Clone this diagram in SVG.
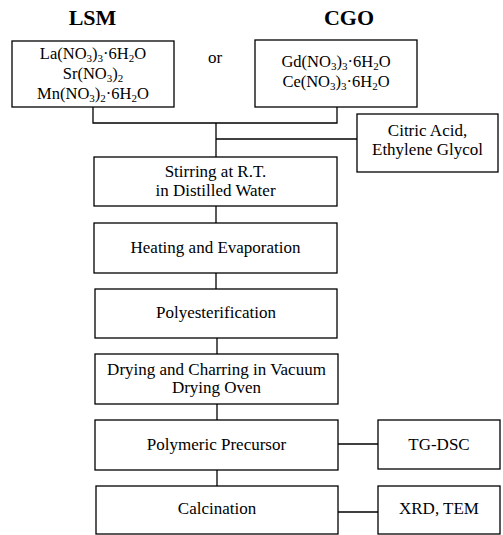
<svg xmlns="http://www.w3.org/2000/svg" width="503" height="535" viewBox="0 0 503 535">
<style>
  .box { fill: #ffffff; stroke: #000000; stroke-width: 1.3; }
  .t { font-family: "Liberation Serif", "Times New Roman", serif; font-size: 17px; fill: #000000; text-anchor: middle; }
  .f { font-family: "Liberation Serif", "Times New Roman", serif; font-size: 16.5px; fill: #000000; text-anchor: middle; }
  .title { font-family: "Liberation Serif", "Times New Roman", serif; font-size: 22px; font-weight: bold; fill: #000000; text-anchor: middle; }
  .sub { font-size: 11px; }
  .conn { fill: none; stroke: #000000; stroke-width: 1.3; }
</style>
<rect x="0" y="0" width="503" height="535" fill="#ffffff"/>
<g id="connectors">
  <path class="conn" d="M93,107 V123 H337 V107"/>
  <path class="conn" d="M216,123 V157"/>
  <path class="conn" d="M216,139 H357"/>
  <path class="conn" d="M216,206 V223"/>
  <path class="conn" d="M216,273 V289"/>
  <path class="conn" d="M217,338 V354"/>
  <path class="conn" d="M217,404 V420"/>
  <path class="conn" d="M217,470 V486"/>
  <path class="conn" d="M338,444 H378"/>
  <path class="conn" d="M338,512 H378"/>
</g>
<g id="title-lsm"><text class="title" x="92.5" y="25">LSM</text></g>
<g id="title-cgo"><text class="title" x="349" y="25">CGO</text></g>
<g id="or-label"><text class="t" x="215" y="63">or</text></g>
<g id="lsm">
  <rect class="box" x="12" y="41" width="162" height="66"/>
  <text class="f" x="93" y="59">La(NO<tspan class="sub" dy="3">3</tspan><tspan dy="-3">)</tspan><tspan class="sub" dy="3">3</tspan><tspan dy="-3">·6H</tspan><tspan class="sub" dy="3">2</tspan><tspan dy="-3">O</tspan></text>
  <text class="f" x="93" y="79">Sr(NO<tspan class="sub" dy="3">3</tspan><tspan dy="-3">)</tspan><tspan class="sub" dy="3">2</tspan></text>
  <text class="f" x="93" y="99">Mn(NO<tspan class="sub" dy="3">3</tspan><tspan dy="-3">)</tspan><tspan class="sub" dy="3">2</tspan><tspan dy="-3">·6H</tspan><tspan class="sub" dy="3">2</tspan><tspan dy="-3">O</tspan></text>
</g>
<g id="cgo">
  <rect class="box" x="255" y="40" width="162" height="67"/>
  <text class="f" x="336" y="67">Gd(NO<tspan class="sub" dy="3">3</tspan><tspan dy="-3">)</tspan><tspan class="sub" dy="3">3</tspan><tspan dy="-3">·6H</tspan><tspan class="sub" dy="3">2</tspan><tspan dy="-3">O</tspan></text>
  <text class="f" x="336" y="87">Ce(NO<tspan class="sub" dy="3">3</tspan><tspan dy="-3">)</tspan><tspan class="sub" dy="3">3</tspan><tspan dy="-3">·6H</tspan><tspan class="sub" dy="3">2</tspan><tspan dy="-3">O</tspan></text>
</g>
<g id="citric">
  <rect class="box" x="357" y="114" width="141" height="58"/>
  <text class="t" x="427.5" y="136">Citric Acid,</text>
  <text class="t" x="427.5" y="155">Ethylene Glycol</text>
</g>
<g id="stirring">
  <rect class="box" x="94" y="157" width="243" height="49"/>
  <text class="t" x="215.5" y="177">Stirring at R.T.</text>
  <text class="t" x="215.5" y="196">in Distilled Water</text>
</g>
<g id="heating">
  <rect class="box" x="94" y="223" width="243" height="50"/>
  <text class="t" x="215.5" y="253">Heating and Evaporation</text>
</g>
<g id="poly">
  <rect class="box" x="95" y="289" width="242" height="49"/>
  <text class="t" x="216" y="318">Polyesterification</text>
</g>
<g id="drying">
  <rect class="box" x="95" y="354" width="243" height="50"/>
  <text class="t" x="216.5" y="375">Drying and Charring in Vacuum</text>
  <text class="t" x="216.5" y="393">Drying Oven</text>
</g>
<g id="precursor">
  <rect class="box" x="95" y="420" width="243" height="50"/>
  <text class="t" x="216.5" y="450">Polymeric Precursor</text>
</g>
<g id="calcination">
  <rect class="box" x="96" y="486" width="242" height="48"/>
  <text class="t" x="217" y="514">Calcination</text>
</g>
<g id="tgdsc">
  <rect class="box" x="378" y="420" width="122" height="49"/>
  <text class="t" x="439" y="450">TG-DSC</text>
</g>
<g id="xrdtem">
  <rect class="box" x="378" y="486" width="122" height="48"/>
  <text class="t" x="439" y="514">XRD, TEM</text>
</g>
</svg>
